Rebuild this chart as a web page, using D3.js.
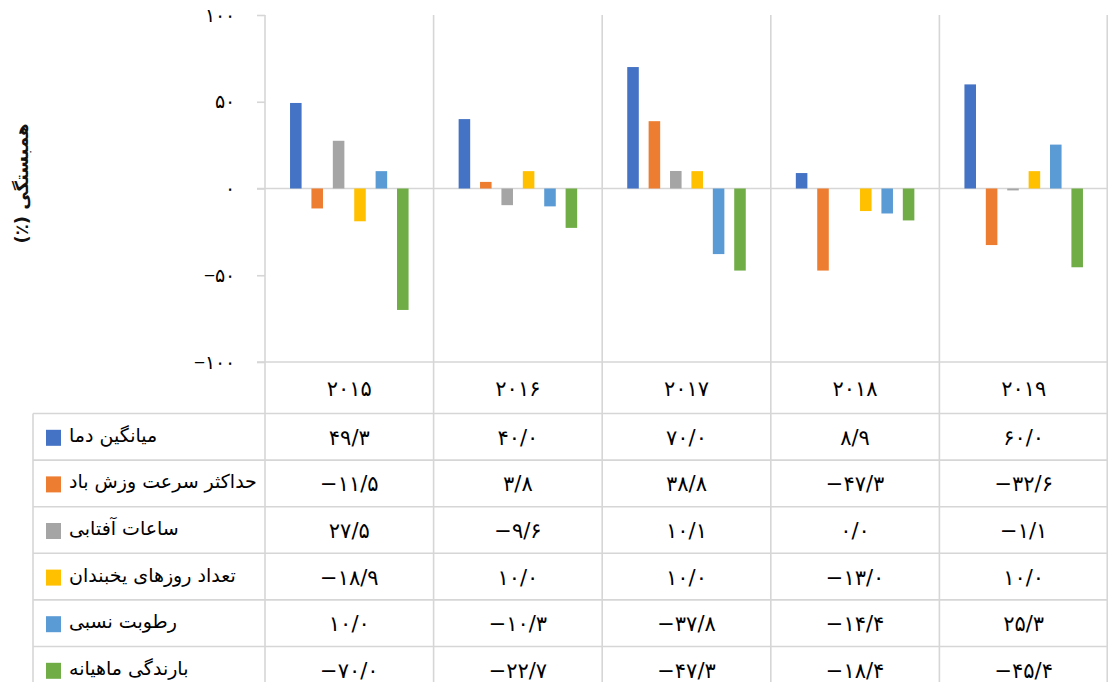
<!DOCTYPE html>
<html lang="fa">
<head>
<meta charset="utf-8">
<script src="https://cdn.jsdelivr.net/npm/d3@7"></script>
<style>
  html, body { margin: 0; padding: 0; background: #fff; }
  svg { display: block; font-family: "DejaVu Sans", "Noto Sans", sans-serif; }
</style>
</head>
<body>
<svg id="chart" width="1108" height="682"></svg>
<script>
// Years (category axis)
const years = [2015, 2016, 2017, 2018, 2019];

// Series names (data-table row labels)
const seriesNames = [
  "میانگین دما",
  "حداکثر سرعت وزش باد",
  "ساعات آفتابی",
  "تعداد روزهای یخبندان",
  "رطوبت نسبی",
  "بارندگی ماهیانه"
];

// Correlation values (%) per series, one per year
const meanTemp      = [49.3, 40.0, 70.0, 8.9, 60.0];
const maxWind       = [-11.5, 3.8, 38.8, -47.3, -32.6];
const sunshine      = [27.5, -9.6, 10.1, 0.0, -1.1];
const frostDays     = [-18.9, 10.0, 10.0, -13.0, 10.0];
const humidity      = [10.0, -10.3, -37.8, -14.4, 25.3];
const monthlyRain   = [-70.0, -22.7, -47.3, -18.4, -45.4];

const seriesValues = [meanTemp, maxWind, sunshine, frostDays, humidity, monthlyRain];
const seriesColors = ["#4472C4", "#ED7D31", "#A5A5A5", "#FFC000", "#5B9BD5", "#70AD47"];

// Y axis ticks
const yTicks = [-100, -50, 0, 50, 100];
const yTitle = "همبستگی (٪)";

// Persian digit formatting
const faDigits = "۰۱۲۳۴۵۶۷۸۹";
const toFa = s => String(s).replace(/[0-9]/g, d => faDigits[+d]);
const fmtVal = v => {
  const s = toFa(Math.abs(v).toFixed(1).replace(".", "/"));
  return v < 0 ? "\u2212" + s : s;
};
const fmtTick = v => (v < 0 ? "\u2212" : "") + toFa(Math.abs(v));

const svg = d3.select("#chart");
const gridColor = "#d6d6d6";

const plotLeft = 265, plotRight = 1108, plotTop = 15, plotBottom = 362;
const tableTop = 413.5, rowH = 46.6, tableLeft = 33;

const x0 = d3.scaleBand().domain(years).range([plotLeft, plotRight]).paddingInner(0).paddingOuter(0);
const x1 = d3.scaleBand().domain(d3.range(seriesNames.length))
  .range([0, x0.bandwidth()]).paddingInner(0.46).paddingOuter(1.17);
const y = d3.scaleLinear().domain([-100, 100]).range([plotBottom, plotTop]);

// Vertical separators between year columns (plot + table)
const bounds = years.map(yr => x0(yr)).concat([plotRight - 0.75]);
svg.append("g").selectAll("line").data(bounds).join("line")
  .attr("x1", d => d).attr("x2", d => d)
  .attr("y1", plotTop).attr("y2", 682)
  .attr("stroke", gridColor).attr("stroke-width", 1.6);

// Y axis ticks
const yAxis = d3.axisLeft(y).tickValues(yTicks).tickSize(8).tickPadding(22).tickFormat(fmtTick);
const gy = svg.append("g").attr("transform", `translate(${plotLeft},0)`).call(yAxis);
gy.select(".domain").remove();
gy.selectAll(".tick line").attr("stroke", gridColor).attr("stroke-width", 1.6);
gy.selectAll(".tick text").attr("font-size", 19).attr("fill", "#000")
  .attr("direction", "ltr").style("unicode-bidi", "plaintext");

// Zero line (category axis)
svg.append("line")
  .attr("x1", plotLeft - 8).attr("x2", plotRight)
  .attr("y1", y(0)).attr("y2", y(0))
  .attr("stroke", gridColor).attr("stroke-width", 1.6);

// Y title
svg.append("text")
  .attr("transform", `translate(28,${(plotTop + plotBottom) / 2 - 5}) rotate(-90)`)
  .attr("text-anchor", "middle")
  .attr("direction", "rtl")
  .attr("font-size", 18).attr("font-weight", "bold").attr("fill", "#111")
  .text(yTitle);

// Bars
const barData = [];
seriesValues.forEach((vals, si) => vals.forEach((v, yi) => barData.push({ si, yi, v })));
svg.append("g").selectAll("rect").data(barData).join("rect")
  .attr("x", d => x0(years[d.yi]) + x1(d.si))
  .attr("width", x1.bandwidth())
  .attr("y", d => y(Math.max(0, d.v)))
  .attr("height", d => Math.abs(y(d.v) - y(0)))
  .attr("fill", d => seriesColors[d.si]);

// Data table: horizontal lines
svg.append("line")
  .attr("x1", plotLeft - 8).attr("x2", plotRight)
  .attr("y1", plotBottom).attr("y2", plotBottom)
  .attr("stroke", gridColor).attr("stroke-width", 1.6);
const rowLines = d3.range(seriesNames.length + 1).map(i => tableTop + i * rowH);
svg.append("g").selectAll("line").data(rowLines).join("line")
  .attr("x1", tableLeft).attr("x2", plotRight)
  .attr("y1", d => d).attr("y2", d => d)
  .attr("stroke", gridColor).attr("stroke-width", 1.6);
svg.append("line")
  .attr("x1", tableLeft).attr("x2", tableLeft)
  .attr("y1", tableTop).attr("y2", 682)
  .attr("stroke", gridColor).attr("stroke-width", 1.6);

// Year headers
svg.append("g").selectAll("text").data(years).join("text")
  .attr("x", d => x0(d) + x0.bandwidth() / 2)
  .attr("y", (plotBottom + tableTop) / 2 + 8)
  .attr("text-anchor", "middle")
  .attr("font-size", 21).attr("fill", "#000")
  .text(d => toFa(d));

// Table rows: legend key, label, values
const rows = svg.append("g").selectAll("g").data(seriesNames).join("g")
  .attr("transform", (d, i) => `translate(0,${tableTop + i * rowH})`);
rows.append("rect")
  .attr("x", 46).attr("y", rowH / 2 - 7)
  .attr("width", 15).attr("height", 16)
  .attr("fill", (d, i) => seriesColors[i]);
rows.append("text")
  .attr("x", 69).attr("y", rowH / 2 + 5)
  .attr("text-anchor", "start")
  .attr("font-size", 19).attr("fill", "#000")
  .text(d => d);
rows.each(function(name, si) {
  d3.select(this).selectAll("text.val").data(seriesValues[si]).join("text")
    .attr("class", "val")
    .attr("x", (v, yi) => x0(years[yi]) + x0.bandwidth() / 2)
    .attr("y", rowH / 2 + 8)
    .attr("text-anchor", "middle")
    .attr("direction", "ltr")
    .attr("font-size", 21).attr("fill", "#000")
    .text(v => fmtVal(v));
});
</script>
</body>
</html>
